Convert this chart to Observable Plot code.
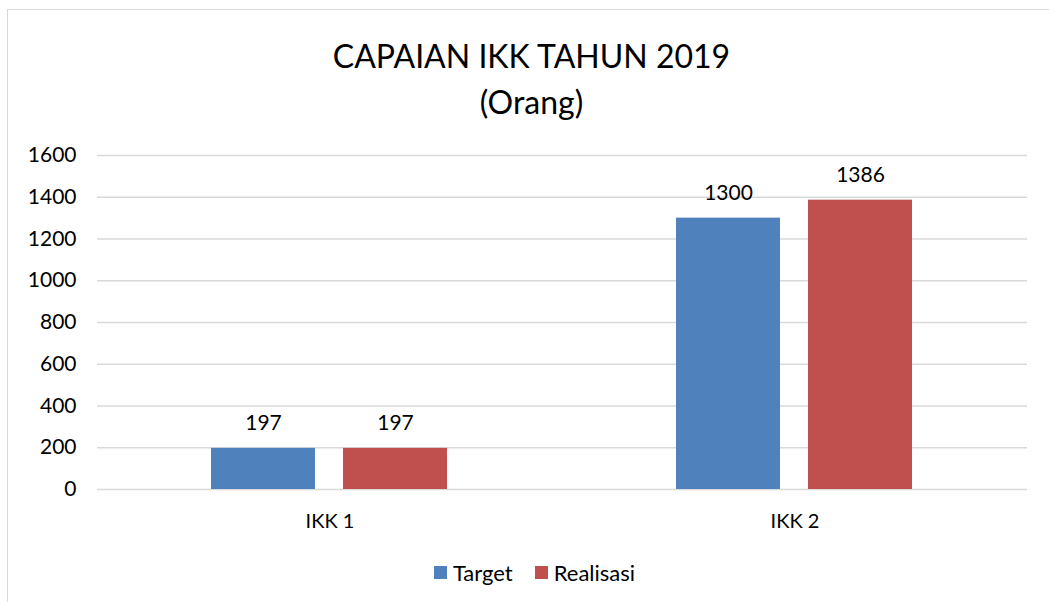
<!DOCTYPE html>
<html>
<head>
<meta charset="utf-8">
<script src="https://cdn.jsdelivr.net/npm/d3@7"></script>
<script src="https://cdn.jsdelivr.net/npm/@observablehq/plot@0.6"></script>
<style>
  html, body { margin: 0; padding: 0; background: #fff; overflow: hidden; }
  body { width: 1049px; height: 602px; position: relative; font-family: Lato, "Open Sans", sans-serif; color: #000; }
  #frame { position: absolute; left: 7px; top: 9px; width: 1100px; height: 700px; border: 1.5px solid #d9d9d9; box-sizing: border-box; }
  #title { position: absolute; left: 7px; top: 33px; width: 1049px; text-align: center; font-size: 32px; line-height: 46px; }
  #chart { position: absolute; left: 0; top: 130px; }
  #legend { position: absolute; left: 10px; top: 559px; width: 1049px; display: flex; justify-content: center; gap: 22px; font-size: 22px; }
  .item { display: flex; align-items: center; gap: 6px; }
  .sw { width: 13px; height: 13px; display: inline-block; }
</style>
</head>
<body>
<div id="frame"></div>
<div id="title">CAPAIAN IKK TAHUN 2019<br>(Orang)</div>
<div id="chart"></div>
<div id="legend"></div>
<script>
const categories = ["IKK 1", "IKK 2"];
const seriesNames = ["Target", "Realisasi"];
const targetValues = [197, 1300];
const realisasiValues = [197, 1386];
const yTicks = [0, 200, 400, 600, 800, 1000, 1200, 1400, 1600];
const colors = ["#4f81bd", "#c0504d"];

const data = [];
categories.forEach((c, i) => {
  data.push({cat: c, series: "Target", value: targetValues[i]});
  data.push({cat: c, series: "Realisasi", value: realisasiValues[i]});
});

const chart = Plot.plot({
  width: 1049,
  height: 410,
  marginLeft: 96,
  marginRight: 22,
  marginTop: 25,
  marginBottom: 51,
  style: {fontFamily: "Lato, 'Open Sans', sans-serif", fontSize: "20px", color: "#000", background: "transparent"},
  fx: {domain: categories, padding: 0, label: null, axis: "bottom", tickSize: 0, tickPadding: 24},
  x: {domain: seriesNames, paddingInner: 0.21, paddingOuter: 0.857, axis: null},
  y: {domain: [0, 1600], label: null, axis: null},
  color: {domain: seriesNames, range: colors},
  marks: [
    Plot.ruleY(yTicks, {stroke: "#d9d9d9", strokeWidth: 1.5}),
    Plot.axisY(yTicks, {tickSize: 0, tickPadding: 21, tickFormat: d => String(d), fontSize: 21, label: null}),
    Plot.barY(data, {fx: "cat", x: "series", y: "value", fill: "series"}),
    Plot.text(data, {fx: "cat", x: "series", y: "value", text: d => String(d.value), dy: -25, fontSize: 21, fill: "#000"})
  ]
});
document.getElementById("chart").appendChild(chart);

const legend = document.getElementById("legend");
seriesNames.forEach((s, i) => {
  const it = document.createElement("div");
  it.className = "item";
  it.innerHTML = `<span class="sw" style="background:${colors[i]}"></span><span>${s}</span>`;
  legend.appendChild(it);
});
</script>
</body>
</html>
